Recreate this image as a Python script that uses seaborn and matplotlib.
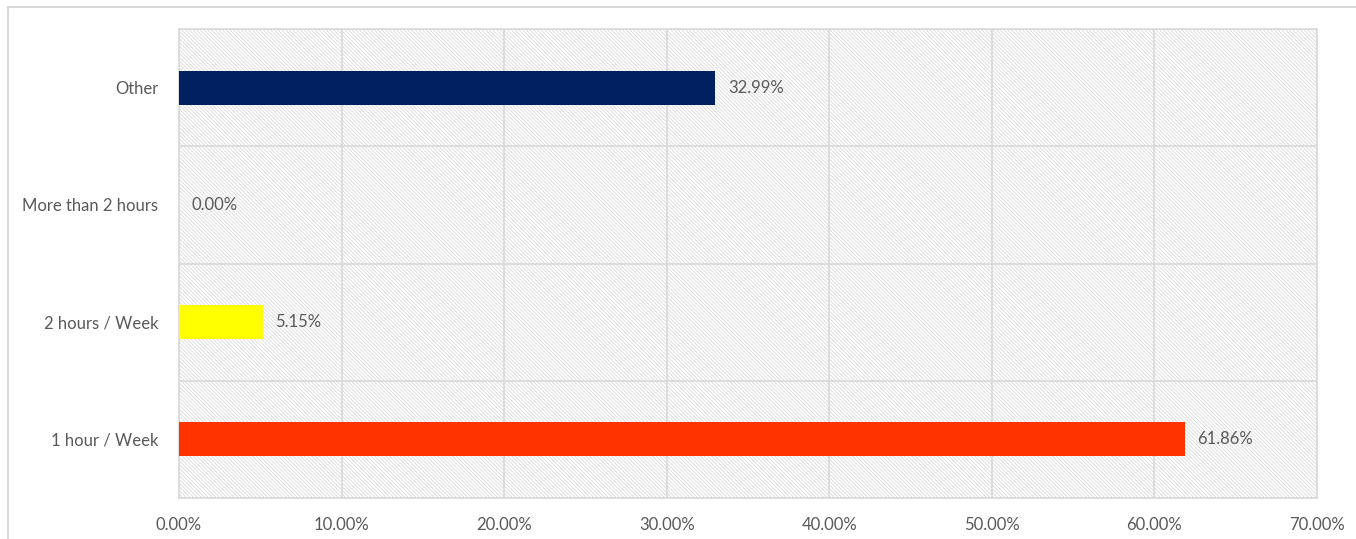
import numpy as np
import pandas as pd
import seaborn as sns
import matplotlib.pyplot as plt
from matplotlib.patches import Rectangle
from matplotlib.lines import Line2D
from matplotlib.ticker import FuncFormatter, MultipleLocator

categories = ['Other', 'More than 2 hours', '2 hours / Week', '1 hour / Week']
shares = [32.99, 0.00, 5.15, 61.86]
bar_colors = ['#002060', '#FFFF00', '#FFFF00', '#FF3300']

df = pd.DataFrame({'category': categories, 'share': shares})

sns.set_theme(style='white')
plt.rcParams['font.family'] = ['Lato', 'DejaVu Sans']
plt.rcParams['hatch.color'] = '#D4D4D4'
plt.rcParams['hatch.linewidth'] = 0.5

grid_c = '#D9D9D9'
text_c = '#595959'

fig = plt.figure(figsize=(13.56, 5.39), dpi=100)
ax = fig.add_axes([179 / 1356, 41 / 539, (1317 - 179) / 1356, (498 - 29) / 539])

# hatched plot-area background
ax.add_patch(Rectangle((0, 0), 1, 1, transform=ax.transAxes, facecolor='white',
                       edgecolor='#D4D4D4', hatch='\\' * 9, linewidth=0, zorder=0))

sns.barplot(data=df, x='share', y='category', hue='category', order=categories,
            palette=dict(zip(categories, bar_colors)), orient='h', width=0.29,
            saturation=1, linewidth=0, legend=False, ax=ax, zorder=3)

for cont in ax.containers:
    ax.bar_label(cont, fmt='%.2f%%', padding=9, color=text_c, fontsize=12)

ax.set_xlim(0, 70)
ax.set_ylim(3.5, -0.5)
ax.xaxis.set_major_locator(MultipleLocator(10))
ax.xaxis.set_major_formatter(FuncFormatter(lambda v, p: f'{v:.2f}%'))
ax.set_yticks(range(len(categories)))
ax.set_yticks(np.arange(-0.5, len(categories), 1), minor=True)
ax.tick_params(axis='y', which='major', length=0, pad=15, labelsize=12, labelcolor=text_c)
ax.tick_params(axis='y', which='minor', length=6, color=grid_c, width=1.2)
ax.tick_params(axis='x', length=0, pad=14, labelsize=12, labelcolor=text_c)
ax.set_xlabel('')
ax.set_ylabel('')

ax.grid(axis='x', color=grid_c, linewidth=1.2, zorder=1)
ax.grid(axis='y', which='minor', color=grid_c, linewidth=1.2, zorder=1)
ax.set_axisbelow(True)
for s in ax.spines.values():
    s.set_color(grid_c)
    s.set_linewidth(1.2)

# outer chart border
fig.add_artist(Line2D([8 / 1356, 8 / 1356], [0, 1 - 7 / 539], color=grid_c, linewidth=1.5))
fig.add_artist(Line2D([8 / 1356, 1], [1 - 7 / 539, 1 - 7 / 539], color=grid_c, linewidth=1.5))

fig.savefig('out.png', dpi=100)
